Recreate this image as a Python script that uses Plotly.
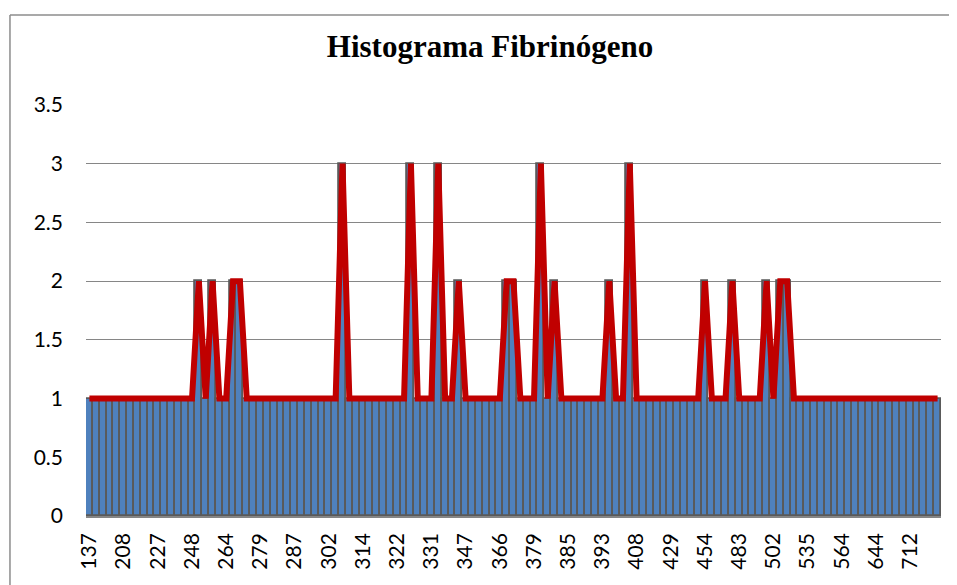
import plotly.graph_objects as go

# Frequency per (sorted) fibrinogen value category, left to right
counts = [
    1, 1, 1, 1, 1, 1, 1, 1, 1, 1, 1, 1, 1, 1, 1, 1, 2, 1, 2, 1, 1, 2, 2, 1, 1,
    1, 1, 1, 1, 1, 1, 1, 1, 1, 1, 1, 1, 3, 1, 1, 1, 1, 1, 1, 1, 1, 1, 3, 1, 1,
    1, 3, 1, 1, 2, 1, 1, 1, 1, 1, 1, 2, 2, 1, 1, 1, 3, 1, 2, 1, 1, 1, 1, 1, 1,
    1, 2, 1, 1, 3, 1, 1, 1, 1, 1, 1, 1, 1, 1, 1, 2, 1, 1, 1, 2, 1, 1, 1, 1, 2,
    1, 2, 2, 1, 1, 1, 1, 1, 1, 1, 1, 1, 1, 1, 1, 1, 1, 1, 1, 1, 1, 1, 1, 1, 1,
]
positions = list(range(len(counts)))

# Visible category labels (every 5th category)
tick_labels = ["137", "208", "227", "248", "264", "279", "287", "302", "314",
               "322", "331", "347", "366", "379", "385", "393", "408", "429",
               "454", "483", "502", "535", "564", "644", "712"]
tick_positions = positions[::5][:len(tick_labels)]

y_ticks = [0, 0.5, 1, 1.5, 2, 2.5, 3, 3.5]
y_tick_text = ["0", "0.5", "1", "1.5", "2", "2.5", "3", "3.5"]

# page body has an 8px margin, so the figure is laid out 8px smaller
W, H = 949, 577
L, R, T, B = 78, 16.3, 97, 69
pw, ph = W - L - R, H - T - B

fig = go.Figure()
fig.add_trace(go.Bar(
    x=positions, y=counts,
    marker=dict(color="#4F81BD", line=dict(color="#5a5a5a", width=1.8)),
    showlegend=False, hoverinfo="skip",
))
fig.add_trace(go.Scatter(
    x=positions, y=counts, mode="lines",
    line=dict(color="#C00000", width=6),
    showlegend=False, hoverinfo="skip",
))

tick_font = dict(family="Lato, Open Sans, sans-serif", size=21, color="black")

bx0, bx1 = (2 - L) / pw, (W + 5 - L) / pw
by0, by1 = (H - B - H - 5) / ph, (H - B - 7) / ph
border = dict(color="#8c8c8c", width=1.5)

fig.update_layout(
    width=W, height=H,
    margin=dict(l=L, r=R, t=T, b=B, autoexpand=False),
    paper_bgcolor="white", plot_bgcolor="white",
    bargap=0,
    title=dict(
        text="<b>Histograma Fibrinógeno</b>",
        font=dict(family="Liberation Serif, Times New Roman, serif", size=31, color="black"),
        x=482 / W, xanchor="center", xref="container",
        y=1 - 38 / H, yanchor="middle", yref="container",
    ),
    xaxis=dict(
        range=[-0.5, len(counts) - 0.5],
        tickmode="array", tickvals=tick_positions, ticktext=tick_labels,
        tickangle=-90, tickfont=tick_font,
        showgrid=False, zeroline=False,
        showline=True, linecolor="#868686", linewidth=1.5,
        ticks="", ticklabelstandoff=7,
    ),
    yaxis=dict(
        range=[0, 3.5],
        tickmode="array", tickvals=y_ticks, ticktext=y_tick_text,
        tickfont=tick_font,
        showgrid=True, gridcolor="#868686", gridwidth=1.3,
        zeroline=False, showline=False,
        ticks="", ticklabelstandoff=22,
    ),
    shapes=[
        dict(type="line", xref="paper", yref="paper",
             x0=bx0, x1=bx1, y0=by1, y1=by1, line=border, layer="above"),
        dict(type="line", xref="paper", yref="paper",
             x0=bx0, x1=bx0, y0=by0, y1=by1, line=border, layer="above"),
    ],
)

fig.write_html("out.html")
